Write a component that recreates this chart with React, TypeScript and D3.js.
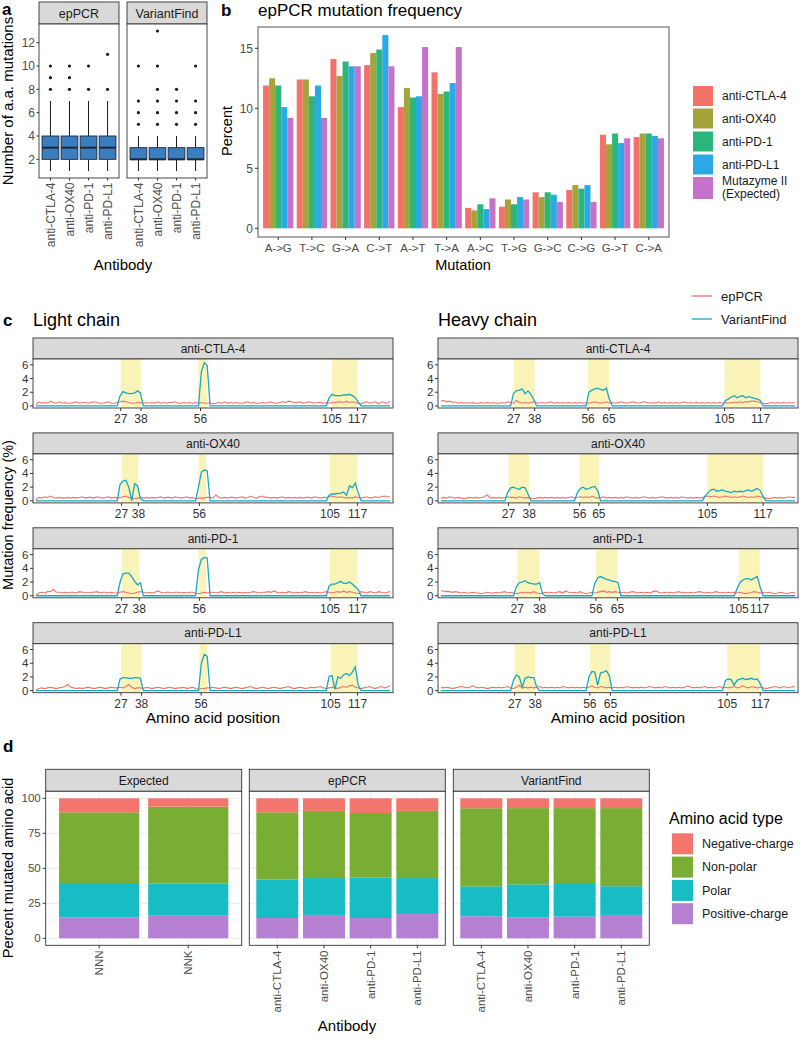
import React from "react";
import * as d3 from "d3";

const FONT = "Liberation Sans, Arial, Helvetica, sans-serif";
const antibodies = ["anti-CTLA-4", "anti-OX40", "anti-PD-1", "anti-PD-L1"];

// ---------- Panel a: box plots of number of a.a. mutations ----------
const boxMethods = ["epPCR", "VariantFind"];
const boxLow = [[1, 1, 1, 1], [1, 1, 1, 1]];
const boxQ1 = [[2, 2, 2, 2], [2, 2, 2, 2]];
const boxMed = [[3, 3, 3, 3], [2, 2, 2, 2]];
const boxQ3 = [[4, 4, 4, 4], [3, 3, 3, 3]];
const boxHigh = [[7, 7, 7, 7], [4, 4, 4, 4]];
const boxOutliers = [
  [[8, 9, 10], [8, 9, 10], [8, 10], [8, 11]],
  [[5, 6, 7, 10], [5, 6, 7, 8, 10, 13], [5, 6, 7, 8], [5, 6, 7, 10]],
];
const boxYTicks = [2, 4, 6, 8, 10, 12];

// ---------- Panel b: epPCR mutation frequency ----------
const mutations = ["A->G", "T->C", "G->A", "C->T", "A->T", "T->A", "A->C", "T->G", "G->C", "C->G", "G->T", "C->A"];
const mutSeries = ["anti-CTLA-4", "anti-OX40", "anti-PD-1", "anti-PD-L1", "Mutazyme II (Expected)"];
const pctCTLA4 = [11.9, 12.4, 14.1, 13.6, 10.1, 13.0, 1.7, 1.8, 3.0, 3.2, 7.8, 7.6];
const pctOX40 = [12.5, 12.4, 12.7, 14.6, 11.7, 11.2, 1.5, 2.4, 2.6, 3.6, 7.0, 7.9];
const pctPD1 = [11.9, 11.0, 13.9, 14.9, 10.9, 11.4, 2.0, 2.0, 3.0, 3.3, 7.9, 7.9];
const pctPDL1 = [10.1, 11.9, 13.5, 16.1, 11.0, 12.1, 1.6, 2.6, 2.8, 3.6, 7.1, 7.7];
const pctMutazyme = [9.2, 9.2, 13.5, 13.5, 15.1, 15.1, 2.5, 2.4, 2.2, 2.2, 7.5, 7.5];
const mutColors = ["#F2726A", "#A5A43A", "#2BB67C", "#2AA9E6", "#C573CA"];
const pctYTicks = [0, 5, 10, 15];

// ---------- Panel c: mutation frequency along position index ----------
const lightRed = [
  [.2,.6,.4,.5,.4,.7,.5,.4,.6,.4, .5,.4,.4,.5,.6,.4,.5,.5,.4,.5, .6,.5,.4,.4,.5,.6,.4,.4,.5,.6,
   .7,.6,.5,.4,.4,.5,.5,.4,.5,.4, .5,.4,.6,.4,.5,.4,.5,.5,.6,.4, .4,.5,.4,.5,.4,.5,.4,.5,.4,.4,
   .5,.3,.4,.5,.4,.6,.4,.5,.4,.5, .4,.4,.5,.6,.4,.5,.4,.4,.5,.4, .5,.6,.4,.4,.5,.6,.5,.7,.6,.5,
   .5,.6,.4,.5,.6,.5,.4,.5,.5,.4, .5,.4,.5,.5,.6,.6,.5,.7,.5,.6, .5,.4,.3,.5,.6,.4,.5,.6,.3,.6, .5,.4,.7],
  [.1,.5,.4,.6,.5,.7,.5,.4,.5,.4, .4,.5,.4,.5,.4,.5,.6,.4,.5,.5, .4,.6,.5,.4,.5,.6,.4,.5,.4,.5,
   .6,.7,.5,.4,.3,.4,.5,.4,.5,.4, .5,.4,.5,.6,.4,.5,.5,.4,.6,.5, .4,.5,.6,.4,.5,.3,.4,.4,.4,.5,
   .5,.4,.9,.5,.4,.5,.4,.5,.5,.4, .5,.6,.4,.5,.7,.5,.4,.6,.7,.5, .5,.4,.5,.4,.5,.6,.4,.5,.4,.5,
   .4,.5,.4,.5,.5,.4,.6,.5,.4,.5, .5,.6,.7,.6,.5,.6,.5,.4,.5,.4, .6,.5,.4,.5,.6,.4,.5,.6,.5,.6, .7,.6,.6],
  [.1,.4,.5,.4,.6,.6,.9,.5,.5,.4, .5,.4,.5,.5,.4,.6,.5,.5,.4,.5, .5,.6,.4,.5,.5,.4,.5,.4,.4,.5,
   .6,.5,.4,.3,.4,.5,.6,.5,.4,.5, .4,.5,.7,.5,.4,.5,.5,.4,.5,.5, .4,.5,.4,.5,.5,.4,.3,.4,.5,.4,
   .5,.5,.4,.5,.6,.4,.5,.4,.5,.4, .5,.4,.5,.4,.5,.6,.5,.4,.5,.5, .6,.5,.7,.5,.4,.5,.4,.6,.5,.4,
   .5,.4,.5,.6,.4,.5,.4,.5,.4,.5, .6,.5,.4,.5,.6,.5,.7,.5,.6,.5, .4,.3,.6,.5,.4,.6,.5,.4,.6,.5, .4,.5,.6],
  [.1,.3,.4,.3,.4,.5,.4,.3,.4,.5, .6,.9,.5,.4,.3,.4,.3,.4,.5,.4, .3,.4,.5,.4,.3,.4,.5,.4,.4,.5,
   .4,.6,.9,.5,.3,.4,.4,.3,.5,.4, .3,.4,.5,.4,.3,.4,.5,.4,.3,.4, .4,.5,.3,.4,.5,.3,.2,.3,.3,.4,
   .4,.5,.4,.3,.4,.5,.4,.3,.4,.5, .4,.3,.4,.5,.6,.4,.3,.4,.5,.4, .3,.4,.5,.4,.3,.4,.5,.6,.4,.3,
   .4,.5,.4,.3,.4,.5,.4,.5,.6,.4, .3,.4,.5,.4,.3,.5,.6,.5,.7,.8, .5,.4,.3,.4,.5,.6,.4,.3,.5,.6, .4,.5,.7],
];
const heavyRed = [
  [.7,.8,.6,.7,.5,.6,.4,.5,.4,.5, .4,.5,.4,.4,.5,.4,.5,.4,.5,.4, .4,.5,.4,.6,.5,.4,.8,.5,.4,.5,
   .4,.5,.6,.5,.4,.5,.4,.5,.6,.4, .5,.4,.5,.4,.5,.4,.5,.4,.5,.4, .5,.4,.5,.6,.5,.4,.5,.6,.4,.5,
   .4,.5,.6,.5,.4,.5,.6,.5,.4,.5, .6,.5,.4,.5,.4,.6,.4,.5,.4,.5, .4,.5,.4,.5,.6,.4,.5,.4,.5,.4,
   .5,.4,.5,.4,.5,.4,.5,.4,.5,.4, .5,.5,.5,.6,.5,.6,.6,.7,.7,.6, .5,.4,.3,.4,.5,.4,.5,.4,.5,.4, .5,.4,.5],
  [.4,.5,.4,.6,.5,.4,.5,.4,.3,.4, .5,.4,.5,.4,.5,.6,.9,.4,.5,.4, .5,.4,.5,.6,.5,.5,.4,.6,.5,.4,
   .5,.4,.3,.4,.5,.4,.5,.4,.5,.4, .5,.4,.5,.4,.5,.6,.4,.5,.6,.5, .6,.5,.7,.5,.4,.5,.6,.4,.5,.4,
   .5,.4,.5,.4,.6,.5,.4,.5,.4,.5, .6,.5,.4,.5,.4,.5,.6,.5,.4,.5, .4,.5,.4,.6,.5,.4,.5,.4,.5,.4,
   .5,.6,.7,.6,.7,.6,.5,.6,.7,.6, .5,.6,.5,.6,.7,.6,.5,.6,.5,.7, .6,.5,.4,.3,.4,.5,.4,.5,.4,.5, .6,.5,.5],
  [.7,.7,.6,.6,.5,.6,.5,.4,.5,.4, .4,.5,.4,.4,.3,.4,.5,.4,.4,.5, .4,.5,.6,.4,.5,.4,.3,.4,.5,.4,
   .5,.4,.6,.4,.3,.4,.5,.4,.5,.4, .5,.6,.4,.7,.5,.4,.5,.4,.6,.4, .3,.4,.5,.4,.5,.6,.7,.5,.6,.5,
   .6,.5,.4,.5,.4,.5,.6,.5,.4,.5, .4,.5,.4,.6,.7,.5,.4,.5,.4,.5, .4,.5,.6,.4,.5,.4,.5,.4,.5,.6,
   .5,.4,.5,.4,.5,.6,.4,.5,.4,.5, .4,.5,.4,.5,.4,.3,.4,.5,.6,.5, .4,.5,.4,.5,.4,.3,.4,.5,.4,.3, .4,.5,.4],
  [.5,.4,.5,.4,.3,.4,.5,.6,.5,.4, .5,.7,.5,.4,.5,.4,.3,.4,.5,.4, .5,.4,.5,.6,.4,.3,.5,.8,.4,.5,
   .4,.5,.4,.5,.6,.4,.5,.4,.5,.4, .5,.4,.6,.5,.4,.5,.4,.5,.4,.5, .4,.5,.7,.5,.4,.6,.5,.4,.5,.4,
   .5,.4,.5,.4,.6,.5,.4,.5,.4,.5, .4,.5,.6,.5,.4,.5,.4,.6,.5,.4, .5,.4,.5,.4,.5,.7,.5,.4,.5,.4,
   .5,.6,.4,.5,.4,.5,.6,.4,.5,.4, .5,.6,.4,.5,.7,.5,.4,.6,.5,.4, .5,.4,.3,.4,.5,.6,.5,.4,.6,.5, .4,.6,.5],
];
// VariantFind: [position index, value]
const lightBlue = [
  [[1,0],[29,0],[30,1.5],[31,2.1],[32,1.9],[33,1.8],[34,1.8],[35,1.9],[36,2.2],[37,1.9],[38,0],
   [57,0],[58,5.0],[59,6.3],[60,5.9],[61,0],
   [101,0],[102,1.2],[103,1.7],[104,1.5],[105,1.5],[106,1.5],[107,1.6],[108,1.6],[109,1.7],[110,1.5],[111,1.2],[112,0.6],[113,0],[123,0]],
  [[1,0],[29,0],[30,2.4],[31,2.9],[32,3.0],[33,2.0],[34,0],[35,2.5],[36,2.2],[37,0.3],[38,0],
   [56,0],[57,2.0],[58,4.2],[59,4.5],[60,4.4],[61,0],
   [101,0],[102,0.8],[103,1.0],[104,1.0],[105,1.1],[106,1.1],[107,1.3],[108,0.8],[109,2.2],[110,1.9],[111,2.6],[112,1.2],[113,0],[123,0]],
  [[1,0],[29,0],[30,2.0],[31,3.2],[32,3.3],[33,3.3],[34,2.8],[35,2.1],[36,1.6],[37,1.9],[38,0],
   [56,0],[57,3.8],[58,5.3],[59,5.6],[60,5.5],[61,0],
   [101,0],[102,1.4],[103,1.7],[104,1.7],[105,1.9],[106,2.1],[107,1.8],[108,1.8],[109,2.0],[110,1.7],[111,1.3],[112,0.9],[113,0],[123,0]],
  [[1,0],[29,0],[30,1.7],[31,1.9],[32,1.9],[33,1.8],[34,1.8],[35,1.9],[36,1.9],[37,1.8],[38,0],
   [57,0],[58,4.0],[59,5.3],[60,5.0],[61,0],
   [101,0],[102,2.1],[103,2.2],[104,0.2],[105,2.0],[106,1.8],[107,2.3],[108,2.5],[109,2.2],[110,2.7],[111,3.5],[112,0.8],[113,0],[123,0]],
];
const heavyBlue = [
  [[1,0],[25,0],[26,1.8],[27,2.2],[28,2.3],[29,2.5],[30,1.8],[31,2.2],[32,1.7],[33,0.9],[34,0],
   [51,0],[52,2.0],[53,2.3],[54,2.5],[55,2.6],[56,2.4],[57,2.3],[58,2.6],[59,1.0],[60,0],
   [98,0],[99,0.8],[100,1.0],[101,1.3],[102,1.5],[103,1.2],[104,1.4],[105,1.5],[106,1.2],[107,1.4],[108,1.2],[109,1.1],[110,1.0],[111,0.8],[112,0],[123,0]],
  [[1,0],[23,0],[24,1.2],[25,1.9],[26,2.0],[27,1.8],[28,1.7],[29,2.0],[30,1.9],[31,1.0],[32,0],
   [47,0],[48,1.2],[49,1.8],[50,2.0],[51,1.7],[52,1.8],[53,2.0],[54,2.1],[55,1.5],[56,0],
   [91,0],[92,0.7],[93,1.2],[94,1.6],[95,1.7],[96,1.4],[97,1.5],[98,1.6],[99,1.4],[100,1.3],[101,1.2],[102,1.4],[103,1.3],[104,1.4],[105,1.3],[106,1.5],[107,1.6],[108,1.4],[109,1.6],[110,1.8],[111,1.5],[112,0.6],[113,0],[123,0]],
  [[1,0],[26,0],[27,1.3],[28,1.9],[29,2.0],[30,2.2],[31,1.9],[32,1.8],[33,1.7],[34,1.7],[35,1.9],[36,0.3],[37,0],
   [53,0],[54,1.8],[55,2.6],[56,2.8],[57,2.6],[58,2.4],[59,2.3],[60,2.1],[61,2.1],[62,1.9],[63,0],
   [102,0],[103,1.0],[104,1.9],[105,2.3],[106,2.5],[107,2.5],[108,2.3],[109,2.6],[110,2.8],[111,1.2],[112,0],[123,0]],
  [[1,0],[25,0],[26,1.5],[27,2.3],[28,2.0],[29,0.5],[30,1.8],[31,2.0],[32,1.9],[33,1.9],[34,0.5],[35,0],
   [51,0],[52,2.0],[53,2.8],[54,2.7],[55,0.8],[56,2.6],[57,2.7],[58,2.9],[59,2.2],[60,0],
   [98,0],[99,1.5],[100,1.7],[101,1.6],[102,0.8],[103,1.5],[104,1.7],[105,1.8],[106,1.6],[107,1.7],[108,1.8],[109,1.6],[110,1.7],[111,1.0],[112,0],[123,0]],
];
// axis labels: [label, position index]
const lightTicks = [
  [["27",30.2],["38",37.2],["56",57.7],["105",102.9],["117",111.8]],
  [["27",30.5],["38",36.3],["56",57.3],["105",102.3],["117",111.8]],
  [["27",30.5],["38",36.6],["56",57.3],["105",102.3],["117",111.8]],
  [["27",30.3],["38",37.4],["56",57.9],["105",102.5],["117",111.8]],
];
const lightCdr = [
  [[30.2,37.2],[56.9,59.9],[102.9,111.8]],
  [[30.5,36.3],[57.0,59.6],[102.3,111.8]],
  [[30.5,36.6],[57.0,59.6],[102.3,111.8]],
  [[30.3,37.4],[57.3,60.0],[102.5,111.8]],
];
const heavyTicks = [
  [["27",26.1],["38",33.3],["56",51.7],["65",58.9],["105",98.7],["117",111.1]],
  [["27",24.3],["38",31.4],["56",48.8],["65",55.4],["105",92.8],["117",112.0]],
  [["27",27.3],["38",35.0],["56",54.4],["65",61.8],["105",103.6],["117",110.8]],
  [["27",26.4],["38",33.5],["56",52.3],["65",59.4],["105",99.6],["117",111.0]],
];
const heavyCdr = [
  [[26.1,33.3],[51.7,58.9],[98.7,111.1]],
  [[24.3,31.4],[48.8,55.4],[92.8,112.0]],
  [[27.3,35.0],[54.4,61.8],[103.6,110.8]],
  [[26.4,33.5],[52.3,59.4],[99.6,111.0]],
];
const freqYTicks = [0, 2, 4, 6];
const lineNames = ["epPCR", "VariantFind"];
const lineColors = ["#F0726B", "#17A8C6"];

// ---------- Panel d: amino acid types ----------
const aaTypes = ["Negative-charge", "Non-polar", "Polar", "Positive-charge"];
const aaColors = ["#F3766E", "#7AAD34", "#17BCC4", "#B580D2"];
const dFacets = ["Expected", "epPCR", "VariantFind"];
const dCats = [["NNN", "NNK"], antibodies, antibodies];
const negCharge = [[10, 6], [10, 9, 10.5, 9], [7.1, 7, 7, 7]];
const nonPolar = [[50.5, 55], [48, 48, 46, 48], [55.8, 54.5, 53.5, 55.8]];
const polar = [[24.5, 22.5], [27.5, 26.3, 29, 25.6], [21.4, 23.5, 24, 20.5]];
const posCharge = [[15, 16.5], [14.5, 16.7, 14.5, 17.4], [15.7, 15, 15.5, 16.7]];
const dYTicks = [0, 25, 50, 75, 100];

const AX = "#4D4D4D";
const BORDER = "#333333";
const STRIP = "#D9D9D9";

function PanelA() {
  const y = d3.scaleLinear().domain([0.4, 13.6]).range([178, 24]);
  const lefts = [39, 127];
  const fw = 80;
  return (
    <g>
      <text x={2} y={15} fontWeight="bold" fontSize={17}>a</text>
      <text transform={`translate(13,101) rotate(-90)`} textAnchor="middle" fontSize={15}>Number of a.a. mutations</text>
      {boxYTicks.map((t) => (
        <g key={t}>
          <line x1={36.5} x2={39} y1={y(t)} y2={y(t)} stroke={BORDER} />
          <text x={35} y={y(t)} dy="0.35em" textAnchor="end" fontSize={12} fill={AX}>{t}</text>
        </g>
      ))}
      {boxMethods.map((m, fi) => {
        const left = lefts[fi];
        const x = d3.scalePoint().domain(antibodies).range([left, left + fw]).padding(0.6);
        const bw = x.step() * 0.88;
        return (
          <g key={m}>
            <rect x={left} y={2} width={fw} height={22} fill={STRIP} stroke={BORDER} strokeWidth={0.9} />
            <text x={left + fw / 2} y={17.5} textAnchor="middle" fontSize={12.5} fill="#1a1a1a">{m}</text>
            <rect x={left} y={24} width={fw} height={154} fill="white" />
            {antibodies.map((ab, i) => {
              const cx = x(ab) as number;
              return (
                <g key={ab}>
                  <line x1={cx} x2={cx} y1={y(boxLow[fi][i])} y2={y(boxQ1[fi][i])} stroke="#1a1a1a" />
                  <line x1={cx} x2={cx} y1={y(boxQ3[fi][i])} y2={y(boxHigh[fi][i])} stroke="#1a1a1a" />
                  <rect x={cx - bw / 2} y={y(boxQ3[fi][i])} width={bw} height={y(boxQ1[fi][i]) - y(boxQ3[fi][i])} fill="#3B7EC0" stroke="#1d2838" strokeWidth={0.9} />
                  <line x1={cx - bw / 2} x2={cx + bw / 2} y1={y(boxMed[fi][i])} y2={y(boxMed[fi][i])} stroke="#1d2838" strokeWidth={2} />
                  {boxOutliers[fi][i].map((o, k) => (
                    <circle key={k} cx={cx} cy={y(o)} r={1.6} fill="#1a1a1a" />
                  ))}
                  <line x1={cx} x2={cx} y1={178} y2={180.5} stroke={BORDER} />
                  <text transform={`translate(${cx},182.5) rotate(-90)`} dy="0.35em" textAnchor="end" fontSize={12} fill={AX}>{ab}</text>
                </g>
              );
            })}
            <rect x={left} y={24} width={fw} height={154} fill="none" stroke={BORDER} strokeWidth={0.9} />
          </g>
        );
      })}
      <text x={123} y={270} textAnchor="middle" fontSize={15}>Antibody</text>
    </g>
  );
}

function PanelB() {
  const left = 258, right = 669, top = 27, bottom = 237;
  const y = d3.scaleLinear().domain([-0.725, 16.775]).range([bottom, top]);
  const x = d3.scaleBand().domain(mutations).range([left, right]).paddingInner(0).paddingOuter(0.1);
  const sub = d3.scaleBand().domain(mutSeries).range([-x.bandwidth() * 0.45, x.bandwidth() * 0.45]);
  const series = [pctCTLA4, pctOX40, pctPD1, pctPDL1, pctMutazyme];
  return (
    <g>
      <text x={221} y={16} fontWeight="bold" fontSize={17}>b</text>
      <text x={258} y={16} fontSize={17}>epPCR mutation frequency</text>
      <text transform={`translate(232,131) rotate(-90)`} textAnchor="middle" fontSize={14.5}>Percent</text>
      {series.map((vals, si) =>
        vals.map((v, i) => {
          const cx = (x(mutations[i]) as number) + x.bandwidth() / 2;
          return (
            <rect key={`${si}-${i}`} x={cx + (sub(mutSeries[si]) as number)} y={y(v)} width={sub.bandwidth()} height={y(0) - y(v)} fill={mutColors[si]} />
          );
        })
      )}
      <rect x={left} y={top} width={right - left} height={bottom - top} fill="none" stroke="#555" strokeWidth={1} />
      {pctYTicks.map((t) => (
        <g key={t}>
          <line x1={left - 3} x2={left} y1={y(t)} y2={y(t)} stroke={BORDER} />
          <text x={left - 5} y={y(t)} dy="0.35em" textAnchor="end" fontSize={12} fill={AX}>{t}</text>
        </g>
      ))}
      {mutations.map((m) => {
        const cx = (x(m) as number) + x.bandwidth() / 2;
        return (
          <g key={m}>
            <line x1={cx} x2={cx} y1={bottom} y2={bottom + 3} stroke={BORDER} />
            <text x={cx} y={252} textAnchor="middle" fontSize={11.5} fill={AX}>{m}</text>
          </g>
        );
      })}
      <text x={463} y={270} textAnchor="middle" fontSize={14.5}>Mutation</text>
      {mutSeries.map((s, i) => {
        const ky = [86, 108.5, 131.5, 154.5, 177][i];
        const kh = i === 4 ? 22 : 20;
        return (
          <g key={s}>
            <rect x={693} y={ky} width={20} height={kh} fill={mutColors[i]} />
            {i < 4 ? (
              <text x={722} y={ky + kh / 2} dy="0.35em" fontSize={12} fill="#1a1a1a">{s}</text>
            ) : (
              <text x={722} y={ky + 4} fontSize={12} fill="#1a1a1a">
                <tspan x={722} dy="0.35em">Mutazyme II</tspan>
                <tspan x={722} dy="1.1em">(Expected)</tspan>
              </text>
            )}
          </g>
        );
      })}
    </g>
  );
}

function Facet(props: any) {
  const { left, top, name, ticks, bands, red, blue } = props;
  const width = 360;
  const pTop = top + 21, pBottom = top + 70;
  const x = d3.scaleLinear().domain([0, 124]).range([left, left + width]);
  const y = d3.scaleLinear().domain([-0.3, 6.85]).range([pBottom, pTop]);
  const line = d3.line<number[]>().x((d) => x(d[0])).y((d) => y(d[1]));
  const redPts = red.map((v: number, i: number) => [i + 1, v]);
  return (
    <g>
      <rect x={left} y={top} width={width} height={21} fill={STRIP} stroke={BORDER} strokeWidth={0.9} />
      <text x={left + width / 2} y={top + 10.5} dy="0.35em" textAnchor="middle" fontSize={12} fill="#1a1a1a">{name}</text>
      <rect x={left} y={pTop} width={width} height={49} fill="white" />
      {bands.map((b: number[], i: number) => (
        <rect key={i} x={x(b[0])} y={pTop} width={x(b[1]) - x(b[0])} height={49} fill="#FAF4B8" />
      ))}
      <path d={line(redPts) as string} fill="none" stroke={lineColors[0]} strokeWidth={1.1} />
      <path d={line(blue) as string} fill="none" stroke={lineColors[1]} strokeWidth={1.3} />
      <rect x={left} y={pTop} width={width} height={49} fill="none" stroke={BORDER} strokeWidth={0.9} />
      {freqYTicks.map((t) => (
        <g key={t}>
          <line x1={left - 3} x2={left} y1={y(t)} y2={y(t)} stroke={BORDER} />
          <text x={left - 4.5} y={y(t)} dy="0.35em" textAnchor="end" fontSize={11.5} fill="#333">{t}</text>
        </g>
      ))}
      {ticks.map((t: any[]) => (
        <g key={t[0]}>
          <line x1={x(t[1])} x2={x(t[1])} y1={pBottom} y2={pBottom + 3} stroke={BORDER} />
          <text x={x(t[1])} y={pBottom + 15} textAnchor="middle" fontSize={12} fill="#333">{t[0]}</text>
        </g>
      ))}
    </g>
  );
}

function PanelC() {
  const rowTop = (r: number) => 338 + r * 94.9;
  return (
    <g>
      <text x={3} y={326} fontWeight="bold" fontSize={17}>c</text>
      <text x={33} y={326} fontSize={18}>Light chain</text>
      <text x={438} y={326} fontSize={18}>Heavy chain</text>
      {lineNames.map((n, i) => (
        <g key={n}>
          <line x1={692} x2={712} y1={296 + i * 23} y2={296 + i * 23} stroke={lineColors[i]} strokeWidth={1.3} />
          <text x={721} y={296 + i * 23} dy="0.35em" fontSize={13} fill="#1a1a1a">{n}</text>
        </g>
      ))}
      <text transform={`translate(13,515) rotate(-90)`} textAnchor="middle" fontSize={14.5}>Mutation frequency (%)</text>
      {antibodies.map((ab, r) => (
        <Facet key={"L" + ab} left={33} top={rowTop(r)} name={ab} ticks={lightTicks[r]} bands={lightCdr[r]} red={lightRed[r]} blue={lightBlue[r]} />
      ))}
      {antibodies.map((ab, r) => (
        <Facet key={"H" + ab} left={438} top={rowTop(r)} name={ab} ticks={heavyTicks[r]} bands={heavyCdr[r]} red={heavyRed[r]} blue={heavyBlue[r]} />
      ))}
      <text x={213} y={723} textAnchor="middle" fontSize={15.5}>Amino acid position</text>
      <text x={618} y={723} textAnchor="middle" fontSize={15.5}>Amino acid position</text>
    </g>
  );
}

function PanelD() {
  const pTop = 791.3, pBottom = 945.3, fw = 196;
  const lefts = [45.7, 249.3, 453.3];
  const y = d3.scaleLinear().domain([-5, 105]).range([pBottom, pTop]);
  const stackKeys = ["Positive-charge", "Polar", "Non-polar", "Negative-charge"];
  const colorOf = (k: string) => aaColors[aaTypes.indexOf(k)];
  return (
    <g>
      <text x={3} y={752} fontWeight="bold" fontSize={17}>d</text>
      <text transform={`translate(13,868) rotate(-90)`} textAnchor="middle" fontSize={14.5}>Percent mutated amino acid</text>
      {dYTicks.map((t) => (
        <g key={t}>
          <line x1={lefts[0] - 3} x2={lefts[0]} y1={y(t)} y2={y(t)} stroke={BORDER} />
          <text x={lefts[0] - 5} y={y(t)} dy="0.35em" textAnchor="end" fontSize={11.5} fill={AX}>{t}</text>
        </g>
      ))}
      {dFacets.map((f, fi) => {
        const left = lefts[fi];
        const cats = dCats[fi];
        const x = d3.scalePoint().domain(cats).range([left, left + fw]).padding(0.6);
        const bw = x.step() * 0.9;
        const rows = cats.map((c, i) => ({
          cat: c,
          "Negative-charge": negCharge[fi][i],
          "Non-polar": nonPolar[fi][i],
          "Polar": polar[fi][i],
          "Positive-charge": posCharge[fi][i],
        }));
        const stacked = d3.stack<any>().keys(stackKeys)(rows);
        return (
          <g key={f}>
            <rect x={left} y={769.3} width={fw} height={22} fill={STRIP} stroke={BORDER} strokeWidth={0.9} />
            <text x={left + fw / 2} y={780.3} dy="0.35em" textAnchor="middle" fontSize={12} fill="#1a1a1a">{f}</text>
            <rect x={left} y={pTop} width={fw} height={pBottom - pTop} fill="white" />
            {[12.5, 37.5, 62.5, 87.5].map((t) => (
              <line key={t} x1={left} x2={left + fw} y1={y(t)} y2={y(t)} stroke="#F2F2F2" strokeWidth={0.6} />
            ))}
            {dYTicks.map((t) => (
              <line key={t} x1={left} x2={left + fw} y1={y(t)} y2={y(t)} stroke="#EBEBEB" strokeWidth={1} />
            ))}
            {cats.map((c) => (
              <line key={c} x1={x(c) as number} x2={x(c) as number} y1={pTop} y2={pBottom} stroke="#EBEBEB" strokeWidth={1} />
            ))}
            {stacked.map((layer) =>
              layer.map((seg: any, i: number) => (
                <rect key={layer.key + i} x={(x(cats[i]) as number) - bw / 2} y={y(seg[1])} width={bw} height={y(seg[0]) - y(seg[1])} fill={colorOf(layer.key)} />
              ))
            )}
            <rect x={left} y={pTop} width={fw} height={pBottom - pTop} fill="none" stroke={BORDER} strokeWidth={0.9} />
            {cats.map((c) => (
              <g key={c}>
                <line x1={x(c) as number} x2={x(c) as number} y1={pBottom} y2={pBottom + 3} stroke={BORDER} />
                <text transform={`translate(${x(c)},950.5) rotate(-90)`} dy="0.35em" textAnchor="end" fontSize={11.5} fill={AX}>{c}</text>
              </g>
            ))}
          </g>
        );
      })}
      <text x={347} y={1031} textAnchor="middle" fontSize={15}>Antibody</text>
      <text x={669} y={824} fontSize={16}>Amino acid type</text>
      {aaTypes.map((t, i) => (
        <g key={t}>
          <rect x={672} y={833.3 + i * 23.3} width={21} height={21} fill={aaColors[i]} />
          <text x={702} y={843.8 + i * 23.3} dy="0.35em" fontSize={12.5} fill="#1a1a1a">{t}</text>
        </g>
      ))}
    </g>
  );
}

export default function App() {
  return (
    <svg width={800} height={1039} style={{ position: "absolute", left: 0, top: 0, background: "white" }} fontFamily={FONT}>
      <rect width={800} height={1039} fill="white" />
      <PanelA />
      <PanelB />
      <PanelC />
      <PanelD />
    </svg>
  );
}
